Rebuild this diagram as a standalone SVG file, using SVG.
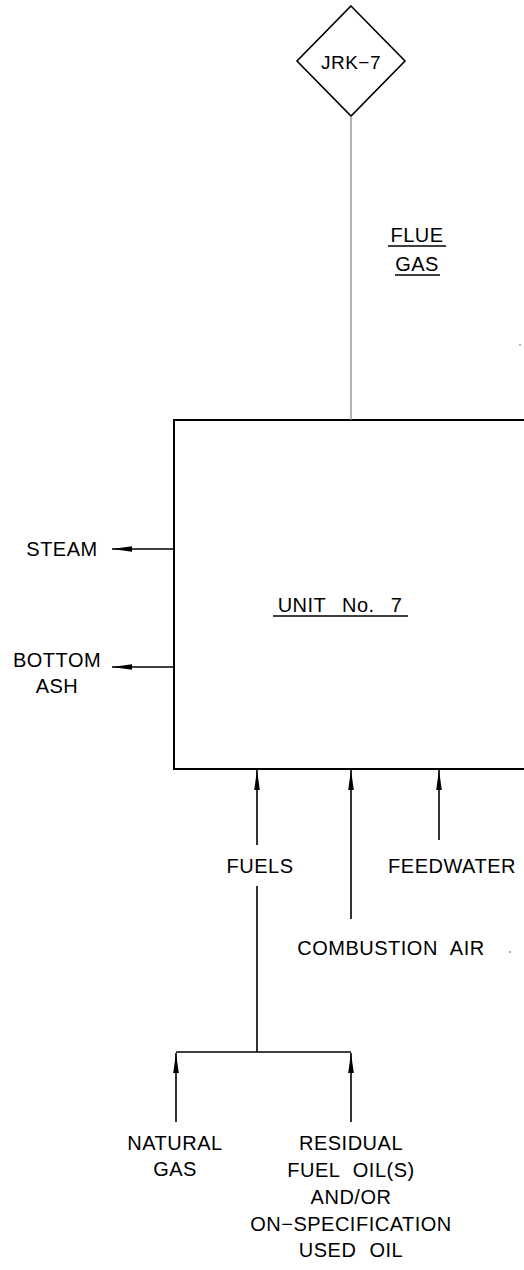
<svg xmlns="http://www.w3.org/2000/svg" width="524" height="1270" viewBox="0 0 524 1270">
<style>
text{font-family:"Liberation Sans",Arial,sans-serif;font-size:20px;fill:#000;text-anchor:middle;letter-spacing:0.5px}
.ws{word-spacing:7px}
.ln{stroke:#000;stroke-width:1.6;fill:none}
.gl{stroke:#888;stroke-width:1.3;fill:none}
.ul{stroke:#000;stroke-width:1.6}
</style>
<defs>
<marker id="ah" viewBox="0 0 20 8" refX="20" refY="4" markerWidth="20" markerHeight="8" markerUnits="userSpaceOnUse" orient="auto">
<path d="M0,1.2 L20,4 L0,6.8 Z" fill="#000"/>
</marker>
</defs>
<rect width="524" height="1270" fill="#fff"/>
<g id="jrk7">
<path d="M351,6 L405,61 L351,116 L297,61 Z" fill="#fff" stroke="#000" stroke-width="1.6"/>
<text x="351" y="69" style="font-size:19px">JRK−7</text>
</g>
<g id="unit7">
<rect x="174" y="420" width="370" height="349" fill="none" stroke="#000" stroke-width="2"/>
<text x="340" y="612" style="word-spacing:10px">UNIT No. 7</text>
<line class="ul" x1="273" y1="616" x2="408" y2="616"/>
</g>
<g id="labels">
<text x="417" y="242">FLUE</text>
<line class="ul" x1="388" y1="246" x2="446" y2="246"/>
<text x="417" y="271">GAS</text>
<line class="ul" x1="395" y1="275" x2="440" y2="275"/>
<text x="62" y="556">STEAM</text>
<text x="57" y="667">BOTTOM</text>
<text x="57" y="693">ASH</text>
<text x="260" y="873">FUELS</text>
<text x="452" y="873">FEEDWATER</text>
<text x="391" y="955" class="ws">COMBUSTION AIR</text>
<text x="175" y="1150">NATURAL</text>
<text x="175" y="1176">GAS</text>
<text x="351" y="1150">RESIDUAL</text>
<text x="351" y="1177" class="ws">FUEL OIL(S)</text>
<text x="351" y="1204">AND/OR</text>
<text x="351" y="1231">ON−SPECIFICATION</text>
<text x="351" y="1257" class="ws">USED OIL</text>
</g>
<g id="connectors">
<line class="gl" x1="351" y1="116" x2="351" y2="420"/>
<line class="ln" x1="174" y1="549" x2="112" y2="549" marker-end="url(#ah)"/>
<line class="ln" x1="174" y1="667" x2="112" y2="667" marker-end="url(#ah)"/>
<line class="ln" x1="257" y1="845" x2="257" y2="770" marker-end="url(#ah)"/>
<line class="ln" x1="351" y1="919" x2="351" y2="770" marker-end="url(#ah)"/>
<line class="ln" x1="439" y1="840" x2="439" y2="770" marker-end="url(#ah)"/>
<polyline class="ln" points="257,886 257,1052"/>
<polyline class="ln" points="176,1052 351,1052"/>
<line class="ln" x1="176" y1="1122" x2="176" y2="1053" marker-end="url(#ah)"/>
<line class="ln" x1="351" y1="1122" x2="351" y2="1053" marker-end="url(#ah)"/>
</g>
<circle cx="510" cy="952" r="0.8" fill="#555"/>
<circle cx="520" cy="345" r="0.8" fill="#555"/>
</svg>
